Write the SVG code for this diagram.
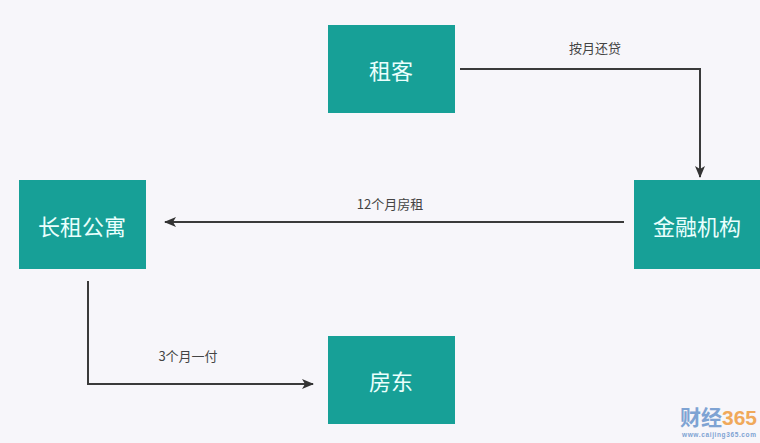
<svg xmlns="http://www.w3.org/2000/svg" width="760" height="443" viewBox="0 0 760 443">
<style>
.box{fill:#17a097}
.t{font-family:"Noto Sans CJK SC",sans-serif;font-size:22px;fill:#eafffd;text-anchor:middle;dominant-baseline:central}
.l{font-family:"Noto Sans CJK SC",sans-serif;font-size:13px;fill:#444;text-anchor:middle}
.c{fill:none;stroke:#3a3a3a;stroke-width:2}
</style>
<defs><marker id="a" viewBox="0 0 12 10" refX="11" refY="5" markerWidth="12" markerHeight="10" markerUnits="userSpaceOnUse" orient="auto"><path d="M0,0L12,5L0,10L3,5Z" fill="#333"/></marker></defs>
<rect width="760" height="443" fill="#f7f6fa"/>
<g id="n1"><rect class="box" x="328" y="25" width="127" height="88"/><text class="t" x="391" y="69">租客</text></g>
<g id="n2"><rect class="box" x="19" y="180" width="127" height="89"/><text class="t" x="82" y="225">长租公寓</text></g>
<g id="n3"><rect class="box" x="634" y="180" width="126" height="89"/><text class="t" x="697" y="225">金融机构</text></g>
<g id="n4"><rect class="box" x="328" y="336" width="127" height="88"/><text class="t" x="391" y="380">房东</text></g>
<g id="edges">
<path class="c" d="M460,69H700V177" marker-end="url(#a)"/>
<path class="c" d="M624,222H165" marker-end="url(#a)"/>
<path class="c" d="M88,281V384H313" marker-end="url(#a)"/>
<text class="l" x="595" y="53">按月还贷</text>
<text class="l" x="390" y="209">12个月房租</text>
<text class="l" x="188" y="361">3个月一付</text>
</g>
<g id="wm" font-family="Liberation Sans,sans-serif" font-weight="bold">
<text x="680" y="425" font-size="21" fill="#7ea3d3" font-family="Noto Sans CJK SC,sans-serif">财经</text>
<text x="722" y="425" font-size="21" fill="#f0a95a">365</text>
<text x="682" y="437" font-size="6.5" fill="#7ea3d3" textLength="74" lengthAdjust="spacing">www.caijing365.com</text>
</g>
</svg>
